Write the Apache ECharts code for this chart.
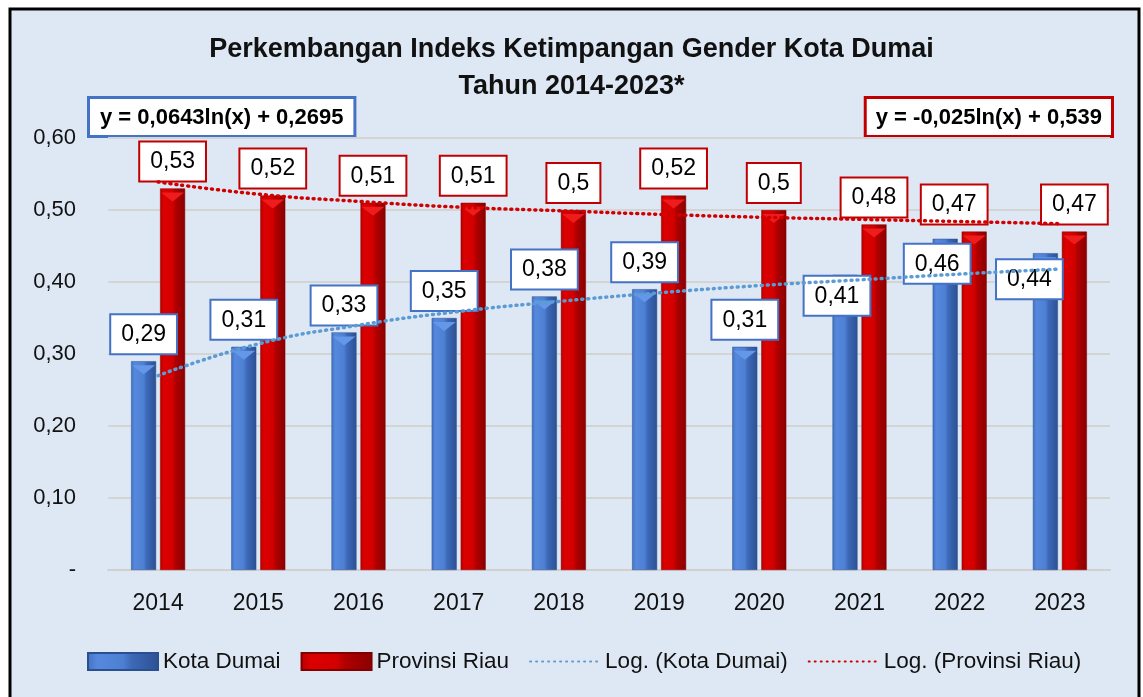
<!DOCTYPE html>
<html>
<head>
<meta charset="utf-8">
<script src="https://cdn.jsdelivr.net/npm/echarts@6/dist/echarts.min.js"></script>
<style>
  html, body { margin: 0; padding: 0; background: #fff; }
  #chart { width: 1143px; height: 697px; }
</style>
</head>
<body>
<div id="chart"></div>
<script>
// data
var years = ['2014', '2015', '2016', '2017', '2018', '2019', '2020', '2021', '2022', '2023']
var kotaDumai = [0.29, 0.31, 0.33, 0.35, 0.38, 0.39, 0.31, 0.41, 0.46, 0.44]
var provRiau = [0.53, 0.52, 0.51, 0.51, 0.5, 0.52, 0.5, 0.48, 0.47, 0.47]
// trendline heights
var trendDumai = [0.27, 0.314, 0.34, 0.359, 0.373, 0.385, 0.395, 0.403, 0.411, 0.418]
var trendRiau = [0.539, 0.522, 0.512, 0.504, 0.499, 0.494, 0.49, 0.487, 0.484, 0.481]
var yTicks = [0, 0.1, 0.2, 0.3, 0.4, 0.5, 0.6]
var titleLines = ['Perkembangan Indeks Ketimpangan Gender Kota Dumai', 'Tahun 2014-2023*']
var eqDumai = 'y = 0,0643ln(x) + 0,2695'
var eqRiau = 'y = -0,025ln(x) + 0,539'

var FONT = '"Liberation Sans", Arial, sans-serif'
var BLUE = '#4472c4'
var RED = '#c00000'

var comma = function (v) { return String(v).replace('.', ',') }

// label box style for each series
var boxLabel = function (border) {
    return {
        show: true,
        position: 'top',
        distance: 8,
        formatter: function (p) { return comma(p.value) },
        fontFamily: FONT,
        fontSize: 23,
        lineHeight: 27,
        color: '#000',
        backgroundColor: '#fff',
        borderColor: border,
        borderWidth: 2,
        padding: [6, 10, 5, 10]
    }
}

// labels ride on the cap series so they sit above the bars;
// the last few blue ones sit just under the bar top in the original
var insideShift = { 7: [-8, 2], 8: [-8, 6], 9: [-16, 7] }
var blueCaps = kotaDumai.map(function (v, i) {
    if (!insideShift[i]) return v
    return {
        value: v,
        label: { position: 'insideTop', distance: insideShift[i][1], offset: [insideShift[i][0], 0] }
    }
})
var redCaps = provRiau.map(function (v, i) {
    if (i !== 8) return v
    return { value: v, label: { offset: [-20, 0] } }
})

var blueGrad = new echarts.graphic.LinearGradient(0, 0, 1, 0, [
    { offset: 0, color: '#4272c2' },
    { offset: 0.15, color: '#5689dd' },
    { offset: 0.5, color: '#4d7fd3' },
    { offset: 0.62, color: '#3d69b8' },
    { offset: 1, color: '#2c5193' }
])
var redGrad = new echarts.graphic.LinearGradient(0, 0, 1, 0, [
    { offset: 0, color: '#b80000' },
    { offset: 0.15, color: '#dc0000' },
    { offset: 0.5, color: '#d20000' },
    { offset: 0.62, color: '#b00000' },
    { offset: 1, color: '#8a0000' }
])

var dotted = [1, 5]

var chart = echarts.init(document.getElementById('chart'))
var option = {
    backgroundColor: '#fff',
    animation: false,
    graphic: [
        {
            type: 'rect', z: -10, silent: true,
            shape: { x: 10, y: 9, width: 1129, height: 700 },
            style: { fill: '#dde8f4', stroke: '#000', lineWidth: 3 }
        },
        {
            type: 'text', left: 'center', top: 36,
            style: { text: titleLines[0], font: 'bold 27px ' + FONT, fill: '#111' }
        },
        {
            type: 'text', left: 'center', top: 73,
            style: { text: titleLines[1], font: 'bold 27px ' + FONT, fill: '#111' }
        },
        {
            type: 'text', left: 87, top: 96,
            style: {
                text: eqDumai, font: 'bold 22px ' + FONT, fill: '#000',
                backgroundColor: '#fff', borderColor: BLUE, borderWidth: 3,
                padding: [8, 10, 6, 10]
            }
        },
        {
            type: 'text', right: 29, top: 96,
            style: {
                text: eqRiau, font: 'bold 22px ' + FONT, fill: '#000',
                backgroundColor: '#fff', borderColor: RED, borderWidth: 3,
                padding: [8, 9, 6, 9]
            }
        }
    ],
    grid: { left: 108, right: 33, top: 138, bottom: 127 },
    legend: {
        top: 645,
        left: 82,
        itemWidth: 70,
        itemHeight: 17,
        itemGap: 20,
        textStyle: { fontFamily: FONT, fontSize: 22.5, color: '#111' },
        data: [
            { name: 'Kota Dumai', icon: 'rect' },
            { name: 'Provinsi Riau', icon: 'rect' },
            { name: 'Log. (Kota Dumai)', itemStyle: { opacity: 0 } },
            { name: 'Log. (Provinsi Riau)', itemStyle: { opacity: 0 } }
        ]
    },
    xAxis: {
        type: 'category',
        data: years,
        axisLine: { lineStyle: { color: '#d0d0d0', width: 2 } },
        axisTick: { show: false },
        axisLabel: { margin: 22, fontFamily: FONT, fontSize: 23, color: '#111' }
    },
    yAxis: {
        type: 'value',
        min: yTicks[0],
        max: yTicks[yTicks.length - 1],
        interval: 0.1,
        axisLine: { show: false },
        axisTick: { show: false },
        splitLine: { lineStyle: { color: '#d4d4d4', width: 2 } },
        axisLabel: {
            margin: 32, fontFamily: FONT, fontSize: 22, color: '#111',
            formatter: function (v) { return v === 0 ? '-' : v.toFixed(2).replace('.', ',') }
        }
    },
    series: [
        {
            name: 'Kota Dumai', type: 'bar', data: kotaDumai,
            barWidth: 25, barGap: '16%',
            itemStyle: { color: blueGrad, borderColor: '#2a4f8f', borderWidth: 0.5 }
        },
        {
            name: 'Provinsi Riau', type: 'bar', data: provRiau,
            barWidth: 25, barGap: '16%',
            itemStyle: { color: redGrad, borderColor: '#800000', borderWidth: 0.5 }
        },
        // bevel triangles on the bar tops, carrying the value boxes
        {
            name: 'capDumai', type: 'pictorialBar', data: blueCaps,
            barWidth: 25, barGap: '16%', z: 3, silent: true,
            symbol: 'triangle', symbolRotate: 180, symbolSize: [23, 9],
            symbolPosition: 'end', symbolOffset: [0, 4],
            itemStyle: { color: '#6497e8' },
            label: boxLabel(BLUE)
        },
        {
            name: 'capRiau', type: 'pictorialBar', data: redCaps,
            barWidth: 25, barGap: '16%', z: 3, silent: true,
            symbol: 'triangle', symbolRotate: 180, symbolSize: [23, 9],
            symbolPosition: 'end', symbolOffset: [0, 4],
            itemStyle: { color: '#ee1c1c' },
            label: boxLabel(RED)
        },
        {
            name: 'Log. (Kota Dumai)', type: 'line', data: trendDumai,
            z: 6, symbol: 'none', smooth: true,
            lineStyle: { color: '#5b9bd5', width: 3.5, type: dotted, cap: 'round' },
            itemStyle: { color: '#5b9bd5' }
        },
        {
            name: 'Log. (Provinsi Riau)', type: 'line', data: trendRiau,
            z: 6, symbol: 'none', smooth: true,
            lineStyle: { color: '#d00000', width: 3.5, type: dotted, cap: 'round' },
            itemStyle: { color: '#d00000' }
        }
    ]
}
chart.setOption(option)
</script>
</body>
</html>
